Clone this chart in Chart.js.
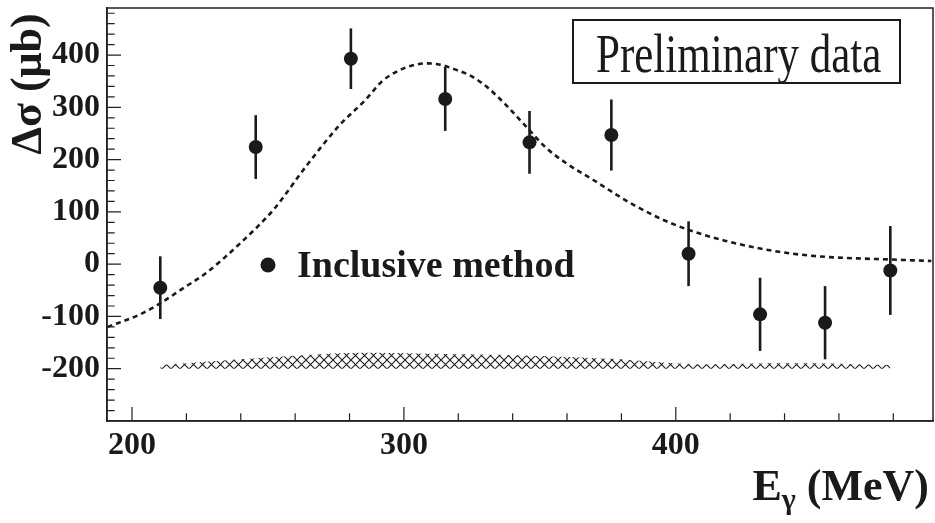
<!DOCTYPE html>
<html>
<head>
<meta charset="utf-8">
<script src="https://cdn.jsdelivr.net/npm/chart.js@4"></script>
<style>
  html, body { margin: 0; padding: 0; background: #fff; }
  #c { display: block; }
</style>
</head>
<body>
<canvas id="c" width="935" height="523"></canvas>
<script>
// Measured points (inclusive method)
const energy = [210.4, 245.5, 280.5, 315.2, 346.2, 376.3, 404.7, 431.0, 454.9, 478.9];
const dsigma = [-45, 224, 393, 316, 233, 247, 20, -96, -112, -12];
const errors = [60, 61, 58, 61, 60, 68, 62, 70, 70, 85];

// Systematic error band, drawn up from the -200 base line
const sysBase = -200;
const sysTop = [-193, -180, -170, -172, -175, -181, -191, -190, -190, -193];

// Model curve (dashed)
const curveE = [191, 203, 210, 220, 227, 240, 252, 264, 276, 286, 292, 298, 303, 308, 313, 318, 325, 331, 338, 345, 352, 360, 370, 380, 385, 394, 405, 418, 431, 443, 455, 467, 479, 494];
const curveY = [-120, -96, -76, -42, -18, 41, 104, 187, 264, 315, 350, 370, 380, 384, 382, 374, 359, 337, 302, 263, 224, 192, 160, 127, 112, 88, 65, 45, 30, 20, 14, 11, 9, 6];

// Axis ticks
const xTicks = [200, 300, 400];
const yTicks = [-200, -100, 0, 100, 200, 300, 400];

const ink = "#1a1a1a";
Chart.defaults.font.family = "'Liberation Serif', 'DejaVu Serif', serif";
Chart.defaults.color = ink;

// crosshatch fill for the systematic band
function hatch() {
  const p = document.createElement("canvas");
  p.width = 9; p.height = 9;
  const g = p.getContext("2d");
  g.strokeStyle = "#1e1e1e";
  g.lineWidth = 1.1;
  g.beginPath();
  g.moveTo(0, 0); g.lineTo(9, 9);
  g.moveTo(0, 9); g.lineTo(9, 0);
  g.stroke();
  return g.createPattern(p, "repeat");
}

const extras = {
  id: "extras",
  afterDatasetsDraw(chart) {
    const ctx = chart.ctx, xs = chart.scales.x, ys = chart.scales.y;
    ctx.save();
    // error bars
    ctx.strokeStyle = ink;
    ctx.lineWidth = 2.6;
    energy.forEach((e, i) => {
      const px = xs.getPixelForValue(e);
      ctx.beginPath();
      ctx.moveTo(px, ys.getPixelForValue(dsigma[i] + errors[i]));
      ctx.lineTo(px, ys.getPixelForValue(dsigma[i] - errors[i]));
      ctx.stroke();
    });
    ctx.restore();
  },
  afterDraw(chart) {
    const ctx = chart.ctx, xs = chart.scales.x, ys = chart.scales.y, a = chart.chartArea;
    ctx.save();
    // frame
    ctx.strokeStyle = "#222";
    ctx.lineWidth = 1.5;
    ctx.strokeRect(a.left, a.top, a.right - a.left, a.bottom - a.top);
    // inward ticks
    ctx.lineWidth = 1.2;
    ctx.beginPath();
    for (let v = 200; v <= 480; v += 20) {
      const px = xs.getPixelForValue(v);
      const len = v % 100 === 0 ? 14 : 7.7;
      ctx.moveTo(px, a.bottom); ctx.lineTo(px, a.bottom - len);
    }
    for (let v = -280; v <= 480; v += 20) {
      const py = ys.getPixelForValue(v);
      const len = v % 100 === 0 ? 14 : 7.7;
      ctx.moveTo(a.left, py); ctx.lineTo(a.left + len, py);
    }
    ctx.stroke();

    // y title
    ctx.fillStyle = ink;
    ctx.save();
    ctx.translate(30, 84);
    ctx.rotate(-Math.PI / 2);
    ctx.font = "bold 44px 'Liberation Serif'";
    ctx.textAlign = "center";
    ctx.textBaseline = "middle";
    ctx.fillText("Δσ (μb)", 0, 0);
    ctx.restore();

    // x title with subscript
    ctx.textBaseline = "alphabetic";
    ctx.textAlign = "left";
    const big = "bold 44px 'Liberation Serif'", small = "bold 30px 'Liberation Serif'";
    ctx.font = big; const wE = ctx.measureText("E").width, wR = ctx.measureText(" (MeV)").width;
    ctx.font = small; const wG = ctx.measureText("γ").width;
    let x0 = 929 - (wE + wG + wR);
    ctx.font = big; ctx.fillText("E", x0, 500);
    ctx.font = small; ctx.fillText("γ", x0 + wE, 509);
    ctx.font = big; ctx.fillText(" (MeV)", x0 + wE + wG, 500);

    // legend
    ctx.beginPath();
    ctx.arc(268, 265, 7.5, 0, Math.PI * 2);
    ctx.fill();
    ctx.font = "bold 38px 'Liberation Serif'";
    ctx.fillText("Inclusive method", 297, 277);

    // preliminary box
    const bx = 573, by = 20, bw = 327, bh = 63;
    ctx.fillStyle = "#fff";
    ctx.fillRect(bx, by, bw, bh);
    ctx.save();
    ctx.beginPath(); ctx.rect(bx, by, bw, bh); ctx.clip();
    ctx.fillStyle = ink;
    ctx.translate(596, 72);
    ctx.scale(1, 1.3);
    ctx.font = "43px 'Liberation Serif'";
    ctx.fillText("Preliminary data", 0, 0);
    ctx.restore();
    ctx.strokeStyle = ink;
    ctx.lineWidth = 2;
    ctx.strokeRect(bx, by, bw, bh);
    ctx.restore();
  }
};

new Chart(document.getElementById("c"), {
  type: "line",
  data: {
    datasets: [
      {
        // systematic errors
        data: energy.map((e, i) => ({ x: e, y: sysTop[i] })),
        borderWidth: 0,
        pointRadius: 0,
        tension: 0.3,
        fill: { value: sysBase },
        backgroundColor: hatch(),
        order: 3
      },
      {
        // model
        data: curveE.map((e, i) => ({ x: e, y: curveY[i] })),
        borderColor: ink,
        borderWidth: 2.6,
        borderDash: [5, 4],
        pointRadius: 0,
        cubicInterpolationMode: "monotone",
        fill: false,
        order: 2
      },
      {
        // data
        data: energy.map((e, i) => ({ x: e, y: dsigma[i] })),
        showLine: false,
        pointRadius: 7,
        pointBackgroundColor: ink,
        pointBorderWidth: 0,
        order: 1
      }
    ]
  },
  options: {
    responsive: false,
    animation: false,
    clip: false,
    layout: { autoPadding: false, padding: { top: 8, right: 2, left: 0, bottom: 0 } },
    plugins: { legend: { display: false }, tooltip: { enabled: false } },
    scales: {
      x: {
        type: "linear",
        min: 190.8,
        max: 494.6,
        afterFit: s => { s.height = 102; s.paddingLeft = 0; s.paddingRight = 0; },
        afterBuildTicks: s => { s.ticks = xTicks.map(v => ({ value: v })); },
        grid: { display: false, drawTicks: false },
        border: { display: true, color: "#222", width: 1.5 },
        ticks: { padding: 6, maxRotation: 0, font: { size: 32, weight: "bold" }, callback: v => String(v) }
      },
      y: {
        min: -300,
        max: 490,
        afterFit: s => { s.width = 107; s.paddingTop = 0; s.paddingBottom = 0; },
        afterBuildTicks: s => { s.ticks = yTicks.map(v => ({ value: v })); },
        grid: { display: false, drawTicks: false },
        border: { display: true, color: "#222", width: 1.5 },
        ticks: { padding: 7, font: { size: 32, weight: "bold" }, callback: v => String(v) }
      }
    }
  },
  plugins: [extras]
});
</script>
</body>
</html>
